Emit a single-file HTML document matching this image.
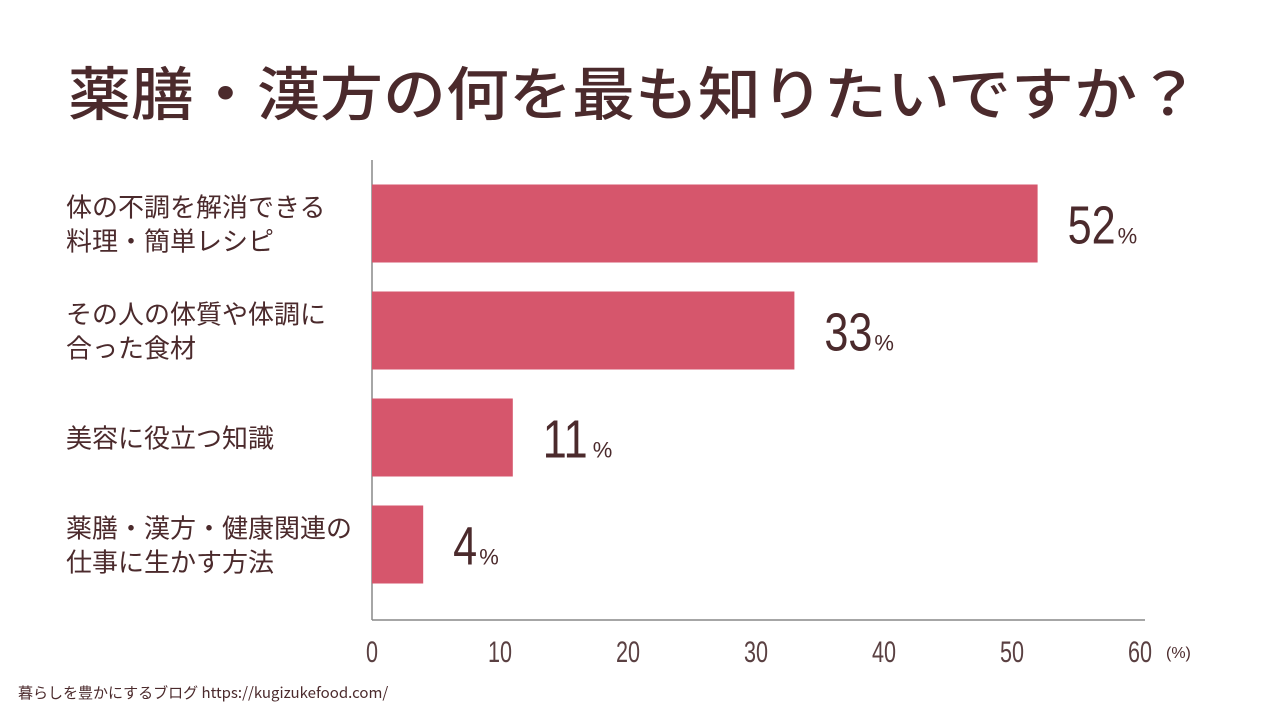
<!DOCTYPE html>
<html><head><meta charset="utf-8"><style>
body{margin:0;background:#fff;}
svg text{font-family:"Liberation Sans","Noto Sans CJK JP",sans-serif;}
</style></head><body>
<svg width="1280" height="720" viewBox="0 0 1280 720">
<text x="68" y="115" font-size="58" font-weight="500" fill="#4b2a2c" textLength="1132" lengthAdjust="spacingAndGlyphs" style="font-family:'Noto Sans CJK JP',sans-serif">薬膳・漢方の何を最も知りたいですか？</text>
<g id="plot"></g>
<text x="18" y="698" font-size="15" fill="#4b2a2c" style="font-family:'Noto Sans CJK JP',sans-serif">暮らしを豊かにするブログ https://kugizukefood.com/</text>
</svg>
<script>
const categories=[["体の不調を解消できる","料理・簡単レシピ"],["その人の体質や体調に","合った食材"],["美容に役立つ知識"],["薬膳・漢方・健康関連の","仕事に生かす方法"]];
const values=[52,33,11,4];
const ticks=[0,10,20,30,40,50,60];
const X0=372,X1=1140,XMAX=60,TOP=170,BAND=107,BARH=78;
const x=v=>X0+(X1-X0)*v/XMAX;
const yc=i=>TOP+BAND*i+BAND/2+12;
const ns="http://www.w3.org/2000/svg";
const g=document.getElementById('plot');
function mk(t,a){const e=document.createElementNS(ns,t);for(const k in a)e.setAttribute(k,a[k]);g.appendChild(e);return e;}
let ax=mk('line',{x1:X0,y1:160,x2:X0,y2:620,stroke:'#888','stroke-width':1.5});


let bx=mk('line',{x1:X0,y1:620,x2:X1+5,y2:620,stroke:'#888','stroke-width':1.5});


ticks.forEach(t=>{
 const e=mk('text',{x:x(t),y:662,'text-anchor':'middle','font-size':30,fill:'#5a4042',transform:`translate(${x(t)},0) scale(0.72,1) translate(${-x(t)},0)`});
 e.textContent=t;
 
 
});
const pu=mk('text',{x:x(60)+26,y:658,'font-size':16,fill:'#4b2a2c'});pu.textContent='(%)';


values.forEach((v,i)=>{
 const c=yc(i)-12;
 const r=mk('rect',{x:X0,y:c-BARH/2,width:x(v)-X0,height:BARH,fill:'#d6566c'});
 
 
 const t=mk('text',{x:x(v)+30,y:c+20,'font-size':54,fill:'#4b2a2c',transform:`translate(${x(v)+30},0) scale(0.8,1) translate(${-(x(v)+30)},0)`});
 t.textContent=v;
 
 
 const p=mk('text',{x:x(v)+30+String(v).length*24+2,y:c+20,'font-size':22,fill:'#4b2a2c'});
 p.textContent='%';
 
 
 const lines=categories[i];
 lines.forEach((s,j)=>{
  const ty=c+10+(j-(lines.length-1)/2)*34;
  const l=mk('text',{x:66,y:ty,'font-size':26,fill:'#4b2a2c',style:"font-family:'Noto Sans CJK JP',sans-serif"});
  l.textContent=s;
  
  
 });
});
</script>
</body></html>
